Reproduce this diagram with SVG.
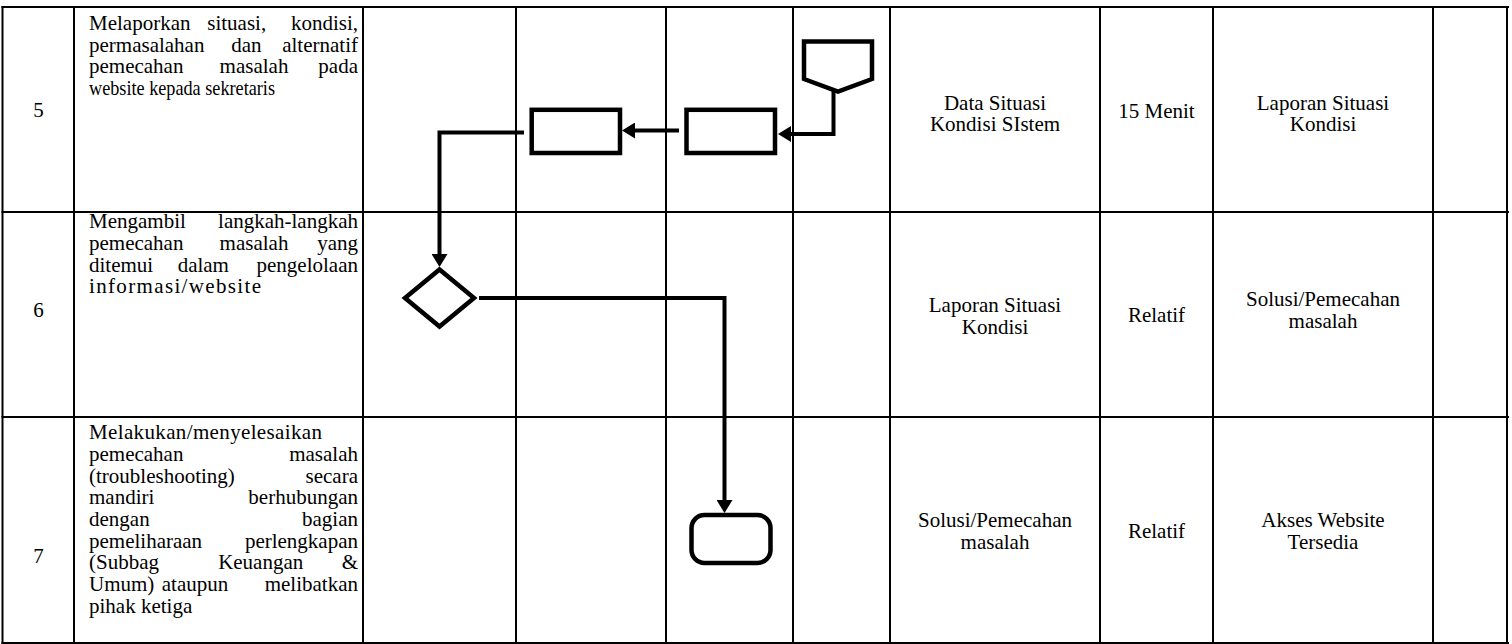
<svg xmlns="http://www.w3.org/2000/svg" width="1512" height="644" viewBox="0 0 1512 644">
<style>
.grid{stroke:#000;stroke-width:2;fill:none}
.shape{stroke:#000;stroke-width:4.5;fill:#fff;stroke-linejoin:miter}
.conn{stroke:#000;stroke-width:4;fill:none;stroke-linejoin:miter}
.t{font-family:"Liberation Serif","Times New Roman",serif;font-size:21px;fill:#000}
.c{text-anchor:middle}
.e{text-anchor:end}
</style>
<defs>
<marker id="ah" markerUnits="userSpaceOnUse" markerWidth="14" markerHeight="16" viewBox="0 0 13 16" refX="0" refY="8" orient="auto">
<path d="M0,0 L13,8 L0,16 Z" fill="#000"/>
</marker>
</defs>
<rect width="1512" height="644" fill="#fff"/>
<g id="table" class="grid">
<line x1="1.5" y1="7" x2="1509" y2="7"/>
<line x1="1.5" y1="212" x2="1509" y2="212"/>
<line x1="1.5" y1="417" x2="1509" y2="417"/>
<line x1="1.5" y1="643" x2="1509" y2="643"/>
<line x1="2.5" y1="6" x2="2.5" y2="644"/>
<line x1="74" y1="6" x2="74" y2="644"/>
<line x1="363" y1="6" x2="363" y2="644"/>
<line x1="516" y1="6" x2="516" y2="644"/>
<line x1="666" y1="6" x2="666" y2="644"/>
<line x1="793" y1="6" x2="793" y2="644"/>
<line x1="890" y1="6" x2="890" y2="644"/>
<line x1="1100" y1="6" x2="1100" y2="644"/>
<line x1="1213" y1="6" x2="1213" y2="644"/>
<line x1="1433" y1="6" x2="1433" y2="644"/>
<line x1="1507" y1="6" x2="1507" y2="644"/>
</g>
<g id="row5-text" class="t">
<text x="38.5" y="117" class="c">5</text>
<text x="89" y="30">Melaporkan</text><text x="236.7" y="30" class="c">situasi,</text><text x="358" y="30" class="e">kondisi,</text>
<text x="89" y="51.7">permasalahan</text><text x="246.3" y="51.7" class="c">dan</text><text x="358" y="51.7" class="e">alternatif</text>
<text x="89" y="73.3">pemecahan</text><text x="254" y="73.3" class="c">masalah</text><text x="358" y="73.3" class="e">pada</text>
<text x="89" y="95" textLength="186" lengthAdjust="spacingAndGlyphs">website kepada sekretaris</text>
<text x="995" y="109.5" class="c">Data Situasi</text>
<text x="995" y="131.2" class="c">Kondisi SIstem</text>
<text x="1156.5" y="118" class="c">15 Menit</text>
<text x="1323" y="109.5" class="c">Laporan Situasi</text>
<text x="1323" y="131.2" class="c">Kondisi</text>
</g>
<g id="row6-text" class="t">
<text x="38.5" y="317" class="c">6</text>
<text x="89" y="228.3">Mengambil</text><text x="358" y="228.3" class="e">langkah-langkah</text>
<text x="89" y="250">pemecahan</text><text x="254" y="250" class="c">masalah</text><text x="358" y="250" class="e">yang</text>
<text x="89" y="271.7">ditemui</text><text x="203.3" y="271.7" class="c">dalam</text><text x="358" y="271.7" class="e">pengelolaan</text>
<text x="89" y="293.3" textLength="172" lengthAdjust="spacing">informasi/website</text>
<text x="995" y="312" class="c">Laporan Situasi</text>
<text x="995" y="333.7" class="c">Kondisi</text>
<text x="1156.5" y="322" class="c">Relatif</text>
<text x="1323" y="306" class="c">Solusi/Pemecahan</text>
<text x="1323" y="327.7" class="c">masalah</text>
</g>
<g id="row7-text" class="t">
<text x="38.5" y="563" class="c">7</text>
<text x="89" y="439.3" textLength="233" lengthAdjust="spacing">Melakukan/menyelesaikan</text>
<text x="89" y="461">pemecahan</text><text x="358" y="461" class="e">masalah</text>
<text x="89" y="482.7">(troubleshooting)</text><text x="358" y="482.7" class="e">secara</text>
<text x="89" y="504.3">mandiri</text><text x="358" y="504.3" class="e">berhubungan</text>
<text x="89" y="526">dengan</text><text x="358" y="526" class="e">bagian</text>
<text x="89" y="547.7">pemeliharaan</text><text x="358" y="547.7" class="e">perlengkapan</text>
<text x="89" y="569.3">(Subbag</text><text x="260.7" y="569.3" class="c">Keuangan</text><text x="358" y="569.3" class="e">&amp;</text>
<text x="89" y="591">Umum)</text><text x="195" y="591" class="c">ataupun</text><text x="358" y="591" class="e">melibatkan</text>
<text x="89" y="612.7">pihak ketiga</text>
<text x="995" y="527" class="c">Solusi/Pemecahan</text>
<text x="995" y="548.7" class="c">masalah</text>
<text x="1156.5" y="537.7" class="c">Relatif</text>
<text x="1323" y="527" class="c">Akses Website</text>
<text x="1323" y="548.7" class="c">Tersedia</text>
</g>
<g id="connectors" class="conn">
<path d="M833.5,91 V134 H791" marker-end="url(#ah)"/>
<path d="M679,130.5 H635" marker-end="url(#ah)"/>
<path d="M524,132.5 H439.5 V254" marker-end="url(#ah)"/>
<path d="M479,298 H724.5 V500" marker-end="url(#ah)"/>
</g>
<g id="offpage">
<polygon class="shape" points="804,41.5 872,41.5 872,79 838,91.5 804,79"/>
</g>
<g id="process-1">
<rect class="shape" x="531.7" y="109.8" width="88.3" height="43.2"/>
</g>
<g id="process-2">
<rect class="shape" x="686.5" y="109.8" width="88.5" height="43.2"/>
</g>
<g id="decision">
<polygon class="shape" points="439.5,269.5 474,298 439.5,326.5 405,298"/>
</g>
<g id="terminator">
<rect class="shape" x="691.5" y="515" width="79" height="48" rx="13"/>
</g>
</svg>
